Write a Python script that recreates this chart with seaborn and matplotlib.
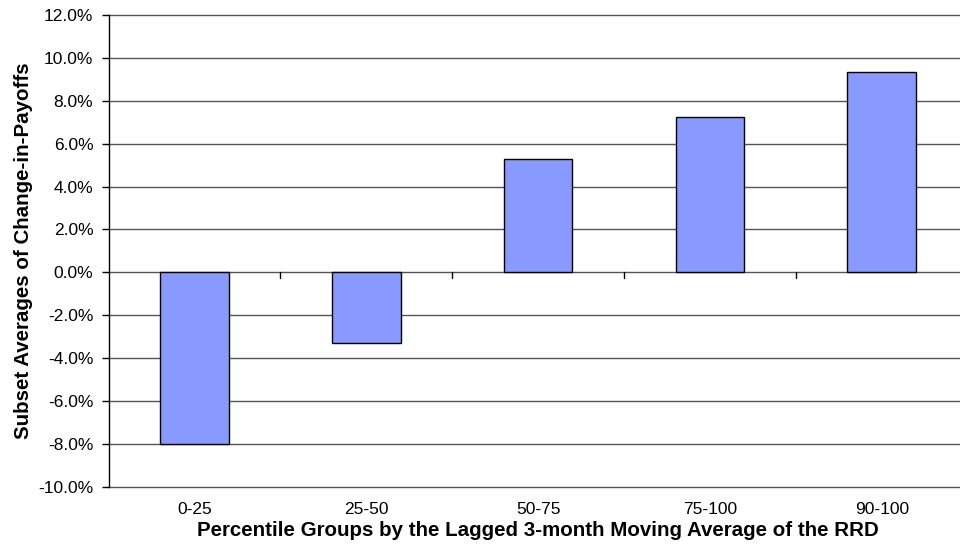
import matplotlib
matplotlib.use("Agg")
import matplotlib.pyplot as plt
import seaborn as sns
import pandas as pd
from matplotlib.ticker import FuncFormatter, FixedLocator

# Percentile groups and their subset averages (in percent)
groups = ["0-25", "25-50", "50-75", "75-100", "90-100"]
averages = [-8.0, -3.3, 5.3, 7.25, 9.35]

y_ticks = [-10, -8, -6, -4, -2, 0, 2, 4, 6, 8, 10, 12]

sns.set_theme(style="white")
plt.rcParams["font.family"] = ["Liberation Sans", "DejaVu Sans"]
plt.rcParams["text.color"] = "black"
plt.rcParams["axes.labelcolor"] = "black"
plt.rcParams["xtick.color"] = "black"
plt.rcParams["ytick.color"] = "black"

df = pd.DataFrame({"group": groups, "avg": averages})

fig = plt.figure(figsize=(9.6, 5.54), dpi=100)
ax = fig.add_axes([108.6 / 960, (554 - 486.7) / 554, 859 / 960, 471.7 / 554])

sns.barplot(data=df, x="group", y="avg", color="#8899FF", saturation=1,
            width=0.40, edgecolor="black", linewidth=1.0, ax=ax, zorder=3)

ax.set_ylim(-10, 12)
ax.set_xlim(-0.5, 4.5)
ax.yaxis.set_major_locator(FixedLocator(y_ticks))
ax.yaxis.set_major_formatter(FuncFormatter(lambda v, p: f"{v:.1f}%"))
for v in y_ticks:
    ax.axhline(v, color="#555555", linewidth=1.0, zorder=1, clip_on=False)

# category separators hanging below the zero line
for i in range(1, 5):
    ax.plot([i - 0.5, i - 0.5], [0, -0.25], color="black", linewidth=1.0,
            zorder=2, clip_on=False)

for s in ["top", "right", "bottom"]:
    ax.spines[s].set_visible(False)
ax.spines["left"].set_color("black")
ax.spines["left"].set_linewidth(1.0)
ax.spines["left"].set_zorder(4)

ax.tick_params(axis="y", left=True, length=5, width=1, color="black",
               labelsize=12.5, pad=6)
ax.tick_params(axis="x", bottom=False, labelsize=12.5, pad=5)

ax.set_xlabel("Percentile Groups by the Lagged 3-month Moving Average of the RRD",
              fontsize=14.75, fontweight="bold", labelpad=3)
ax.set_ylabel("Subset Averages of Change-in-Payoffs",
              fontsize=14.75, fontweight="bold", labelpad=4)

fig.savefig("out.png", dpi=100)
